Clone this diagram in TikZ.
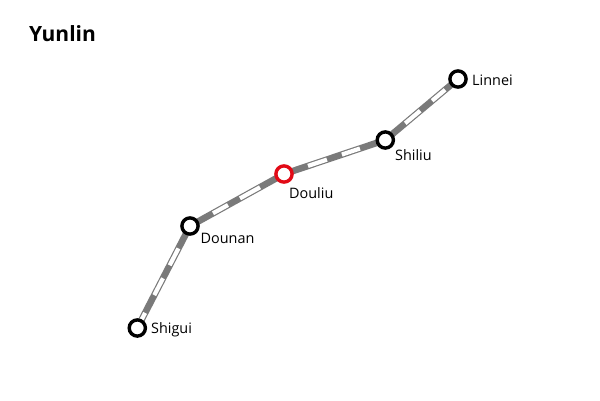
\documentclass[tikz,border=0pt]{standalone}
\usepackage{fontspec}
\setmainfont{Open Sans}
\definecolor{hubred}{RGB}{226,10,22}
\tikzset{
  base/.style={draw=black!52,line width=6.6pt},
  inner/.style={draw=white,line width=4.2pt},
  station/.style={circle,draw=black,fill=white,line width=3.4pt,minimum size=16.2pt,inner sep=0pt},
  hub/.style={station,draw=hubred},
  lbl/.style={font=\fontsize{14.4}{16}\selectfont,inner sep=0pt,text=black,anchor=base west},
  ttl/.style={font=\fontsize{21}{24}\selectfont\bfseries,inner sep=0pt,text=black,anchor=base west}
}
\begin{document}
\begin{tikzpicture}[x=1pt,y=-1pt]
\useasboundingbox (0,0) rectangle (600,400);
\fill[white] (0,0) rectangle (600,400);
\coordinate (a) at (137.3,328);
\coordinate (b) at (190,226);
\coordinate (c) at (284,174);
\coordinate (d) at (385.3,140);
\coordinate (e) at (458,79);
\draw[base] (a) -- (b);
\draw[base] (b) -- (c);
\draw[base] (c) -- (d);
\draw[base] (d) -- (e);
\draw[inner,dash pattern=on 17pt off 20pt on 19pt off 14.6pt on 19pt off 200pt] (a) -- (b);
\draw[inner,dash pattern=on 0pt off 26.3pt on 17.1pt off 13.7pt on 22.9pt off 200pt] (b) -- (c);
\draw[inner,dash pattern=on 0pt off 25.3pt on 20pt off 15.8pt on 19pt off 200pt] (c) -- (d);
\draw[inner,dash pattern=on 0pt off 26pt on 19.5pt off 15.6pt on 17pt off 200pt] (d) -- (e);
\node[station] (shigui) at (a) {};
\node[station] (dounan) at (b) {};
\node[hub] (douliu) at (c) {};
\node[station] (shiliu) at (d) {};
\node[station] (linnei) at (e) {};
\node[lbl] (l1) at (151,333.3) {Shigui};
\node[lbl] (l2) at (200.5,243) {Dounan};
\node[lbl] (l3) at (289,198) {Douliu};
\node[lbl] (l4) at (395,160) {Shiliu};
\node[lbl] (l5) at (472,85) {Linnei};
\node[ttl] (t) at (29,41) {Yunlin};
\end{tikzpicture}
\end{document}
